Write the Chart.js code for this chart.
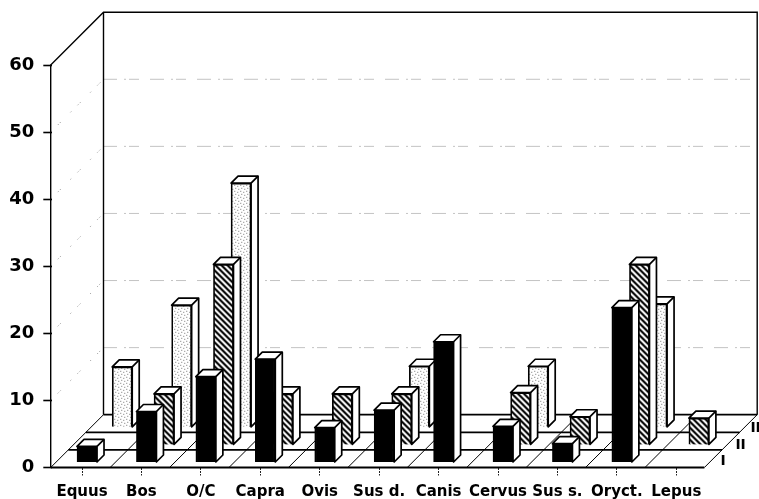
<!DOCTYPE html>
<html>
<head>
<style>
    body { margin: 0; background: #fff; }
</style>
</head>
<body>
<canvas id="myChart" width="759" height="499"></canvas>

<script src="https://cdn.jsdelivr.net/npm/chart.js"></script>

<script>
    const categories = ['Equus', 'Bos', 'O/C', 'Capra', 'Ovis', 'Sus d.', 'Canis', 'Cervus', 'Sus s.', 'Oryct.', 'Lepus'];
    const rowI = [2.4, 7.6, 12.8, 15.4, 5.2, 7.8, 18, 5.4, 2.8, 23.1, null];
    const rowII = [null, 7.6, 26.9, 7.6, 7.6, 7.6, null, 7.8, 4.2, 26.9, 4];
    const rowIII = [9, 18.2, 36.4, null, null, 9.1, null, 9.1, null, 18.4, null];
    const rowNames = ['I', 'II', 'III'];
    const yTicks = [0, 10, 20, 30, 40, 50, 60];

    // depth of the floor: one row moves this far right and up
    const rowDepth = 17.6;
    const barDepth = 7;
    const barInset = 5;
    const floorShift = 1.6;

    function hatchPattern() {
        const c = document.createElement('canvas');
        c.width = 6;
        c.height = 6;
        const g = c.getContext('2d');
        g.fillStyle = '#fff';
        g.fillRect(0, 0, 6, 6);
        g.fillStyle = '#000';
        for (let x = 0; x < 6; x++) {
            for (let y = 0; y < 6; y++) {
                if ((x - y + 6) % 6 < 3) g.fillRect(x, y, 1, 1);
            }
        }
        return g.createPattern(c, 'repeat');
    }

    function stipplePattern() {
        const c = document.createElement('canvas');
        c.width = 6;
        c.height = 6;
        const g = c.getContext('2d');
        g.fillStyle = '#fff';
        g.fillRect(0, 0, 6, 6);
        g.fillStyle = '#777';
        [[0, 1], [3, 0], [2, 3], [5, 4]].forEach(p => g.fillRect(p[0], p[1], 1, 1));
        return g.createPattern(c, 'repeat');
    }

    const ctx = document.getElementById('myChart').getContext('2d');

    function rowOffset(index) {
        return barInset + rowDepth * index;
    }

    // walls and floor behind the bars
    const roomPlugin = {
        id: 'room',
        beforeDatasetsDraw(chart) {
            const g = chart.ctx;
            const area = chart.chartArea;
            const y = chart.scales.y;
            const x0 = area.left - floorShift;
            const x1 = area.right - floorShift;
            const step = (area.right - area.left) / categories.length;
            const depth = rowDepth * rowNames.length;
            g.save();

            // gridlines, broken up like a bad photocopy
            g.lineWidth = 1;
            g.strokeStyle = '#888';
            yTicks.slice(1, -1).forEach(v => {
                const py = y.getPixelForValue(v);
                g.setLineDash([1, 9, 1, 2, 1, 14]);
                g.beginPath();
                g.moveTo(x0, py);
                g.lineTo(x0 + depth, py - depth);
                g.stroke();
                g.setLineDash([1, 1, 1, 1, 1, 1, 1, 1, 1, 1, 1, 1, 1, 8, 1, 4, 1, 1, 1, 1, 1, 1, 1, 1, 1, 12]);
                g.beginPath();
                g.moveTo(x0 + depth, py - depth);
                g.lineTo(x1 + depth, py - depth);
                g.stroke();
            });
            g.setLineDash([]);

            // walls
            g.strokeStyle = '#000';
            g.lineWidth = 1.4;
            const top = y.getPixelForValue(60);
            const bottom = y.getPixelForValue(0);
            g.beginPath();
            g.moveTo(x0, bottom);
            g.lineTo(x0, top);
            g.lineTo(x0 + depth, top - depth);
            g.lineTo(x1 + depth, top - depth);
            g.lineTo(x1 + depth, bottom - depth);
            g.moveTo(x0 + depth, top - depth);
            g.lineTo(x0 + depth, bottom - depth);
            g.stroke();

            // floor rows
            g.lineWidth = 1.8;
            for (let i = 0; i <= rowNames.length; i++) {
                g.beginPath();
                g.moveTo(x0 + rowDepth * i, bottom - rowDepth * i);
                g.lineTo(x1 + rowDepth * i, bottom - rowDepth * i);
                g.stroke();
            }

            // floor diagonals
            g.lineWidth = 1;
            for (let i = 0; i <= categories.length; i++) {
                g.beginPath();
                g.moveTo(x0 + step * i, bottom);
                g.lineTo(x0 + step * i + depth, bottom - depth);
                g.stroke();
            }

            // row names at the right end
            g.fillStyle = '#000';
            g.font = 'bold 14px "DejaVu Sans"';
            g.textAlign = 'left';
            g.textBaseline = 'middle';
            rowNames.forEach((name, i) => {
                g.fillText(name, x1 + 16 + 15 * i, bottom - 6 - 16.5 * i);
            });
            g.restore();
        }
    };

    // each dataset is moved back to its row, with the top and side faces under the front
    const boxPlugin = {
        id: 'box',
        beforeDatasetDraw(chart, args) {
            const g = chart.ctx;
            const shift = rowOffset(args.index);
            const values = chart.data.datasets[args.index].data;
            g.save();
            g.translate(shift, -shift);
            g.strokeStyle = '#000';
            g.fillStyle = '#fff';
            g.lineWidth = 1.7;
            g.lineJoin = 'round';
            args.meta.data.forEach((bar, i) => {
                if (values[i] === null) return;
                const right = bar.x + bar.width / 2;
                const left = bar.x - bar.width / 2;
                g.beginPath();
                g.moveTo(left, bar.y);
                g.lineTo(left + barDepth, bar.y - barDepth);
                g.lineTo(right + barDepth, bar.y - barDepth);
                g.lineTo(right + barDepth, bar.base - barDepth);
                g.lineTo(right, bar.base);
                g.lineTo(right, bar.y);
                g.closePath();
                g.fill();
                g.stroke();
                g.beginPath();
                g.moveTo(right, bar.y);
                g.lineTo(right + barDepth, bar.y - barDepth);
                g.stroke();
            });
        },
        afterDatasetDraw(chart) {
            chart.ctx.restore();
        }
    };

    new Chart(ctx, {
        type: 'bar',
        data: {
            labels: categories,
            datasets: [
                { label: rowNames[0], data: rowI, backgroundColor: '#000' },
                { label: rowNames[1], data: rowII, backgroundColor: hatchPattern() },
                { label: rowNames[2], data: rowIII, backgroundColor: stipplePattern() }
            ]
        },
        plugins: [roomPlugin, boxPlugin],
        options: {
            responsive: false,
            animation: false,
            layout: { padding: { top: 65, right: 53, left: 0, bottom: 0 } },
            datasets: {
                bar: {
                    grouped: false,
                    barThickness: 20,
                    borderColor: '#000',
                    borderWidth: 1.7,
                    clip: false
                }
            },
            plugins: {
                legend: { display: false },
                title: { display: false },
                tooltip: { enabled: false }
            },
            scales: {
                x: {
                    afterFit(scale) { scale.height = 31.5; },
                    border: { display: false },
                    grid: {
                        offset: false,
                        drawOnChartArea: false,
                        tickLength: 8,
                        tickColor: '#222',
                        tickBorderDash: [2, 1]
                    },
                    ticks: {
                        autoSkip: false,
                        maxRotation: 0,
                        padding: 8,
                        color: '#000',
                        font: { family: 'DejaVu Sans', weight: 'bold', size: 15 }
                    }
                },
                y: {
                    min: 0,
                    max: 60,
                    afterFit(scale) { scale.width = 52.3; },
                    afterBuildTicks(scale) { scale.ticks = yTicks.map(v => ({ value: v })); },
                    border: { display: false },
                    grid: {
                        drawOnChartArea: false,
                        tickLength: 9,
                        tickColor: '#000',
                        tickWidth: 1.6
                    },
                    ticks: {
                        padding: 9,
                        color: '#000',
                        font: { family: 'DejaVu Sans', weight: 'bold', size: 18 }
                    }
                }
            }
        }
    });
</script>
</body>
</html>
